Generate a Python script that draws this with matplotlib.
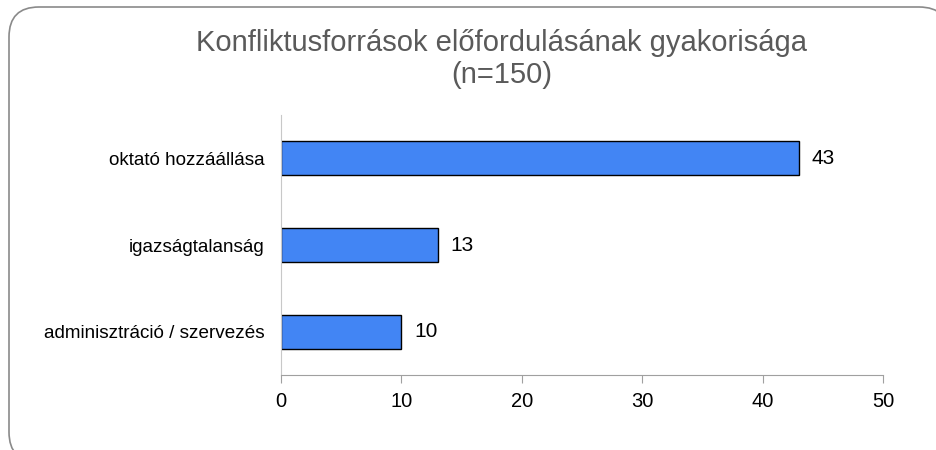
import matplotlib
matplotlib.use("Agg")
import matplotlib.pyplot as plt
from matplotlib.patches import FancyBboxPatch

categories = ["oktató hozzáállása", "igazságtalanság", "adminisztráció / szervezés"]
values = [43, 13, 10]
xticks = [0, 10, 20, 30, 40, 50]

plt.rcParams['font.family'] = ['Liberation Sans', 'DejaVu Sans']

fig = plt.figure(figsize=(9.36, 4.5), dpi=100)

# rounded frame, runs off the right and bottom edge like in the screenshot
frame = FancyBboxPatch((9 / 936, 1 - 462 / 450), 940 / 936, 455 / 450,
                       boxstyle="round,pad=0,rounding_size=0.032",
                       transform=fig.transFigure, facecolor="white",
                       edgecolor="#8a8a8a", linewidth=1.2, mutation_aspect=2.08,
                       zorder=-10)
fig.patches.append(frame)

ax = fig.add_axes([281 / 936, 1 - 375 / 450, (883 - 281) / 936, (375 - 115) / 450])
ax.patch.set_alpha(0)

ypos = list(range(len(categories)))
ax.barh(ypos, values, height=0.39, color="#4285f4", edgecolor="black", linewidth=1)
for y, v in zip(ypos, values):
    ax.text(v + 1.1, y, str(v), va="center", ha="left", fontsize=15, color="black")

ax.set_yticks(ypos)
ax.set_yticklabels(categories, fontsize=13.6)
ax.set_ylim(len(categories) - 0.5, -0.5)
ax.set_xlim(0, 50)
ax.set_xticks(xticks)
ax.set_xticklabels([str(t) for t in xticks], fontsize=14.5)

for s in ["top", "right"]:
    ax.spines[s].set_visible(False)
ax.spines["left"].set_color("#c8c8c8")
ax.spines["bottom"].set_color("#a0a0a0")
ax.tick_params(axis="y", length=0, pad=12)
ax.tick_params(axis="x", length=6, color="#a0a0a0", pad=6)

fig.text(502 / 936, 1 - 59 / 450, "Konfliktusforrások előfordulásának gyakorisága\n(n=150)",
         ha="center", va="center", fontsize=21, color="#5a5a5a", linespacing=1.15)

fig.savefig("out.png", dpi=100)
